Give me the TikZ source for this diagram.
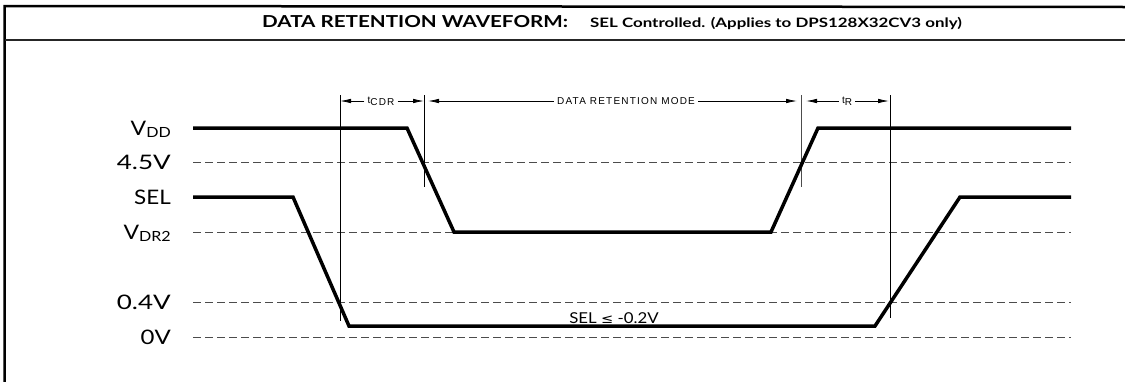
\documentclass[tikz,border=0pt]{standalone}
\usepackage{fontspec}
\setmainfont{Lato}
\newfontfamily\dimfont[LetterSpace=12]{Liberation Sans}
\newfontfamily\symfont{DejaVu Sans}
\usetikzlibrary{arrows.meta}
\newcommand{\widen}[2]{\scalebox{#1}[1]{#2}}
\begin{document}
\begin{tikzpicture}[x=1pt,y=-1pt,
  wave/.style={line width=3.5pt, line join=miter},
  reflevel/.style={line width=0.9pt, black!70, dash pattern=on 8pt off 4pt},
  guide/.style={line width=0.8pt},
  dimarrow/.style={line width=0.8pt, -{Latex[length=11pt,width=4.5pt]}},
  lvl/.style={anchor=base east, inner sep=0pt, font=\fontsize{20}{22}\selectfont},
  dimlabel/.style={inner sep=3pt, font=\dimfont\fontsize{10}{11}\selectfont},
  frame/.style={line width=2.5pt}
]
\useasboundingbox (0,0) rectangle (1125,381);
% frame
\coordinate (fbl) at (4.5,382);
\coordinate (ftl) at (4.5,6);
\coordinate (ftr) at (1126,7);
\coordinate (fml) at (4.5,40);
\coordinate (fmr) at (1126,40);
\draw[frame] (fbl) -- (ftl) -- (ftr);
\draw[line width=1.6pt, black!85] (fml) -- (fmr);
% title
\node[anchor=base west, inner sep=0pt] (title) at (262,27) {\widen{1.25}{\bfseries\fontsize{16.5}{18}\selectfont DATA RETENTION WAVEFORM:}};
\node[anchor=base west, inner sep=0pt] (subtitle) at (590,27) {\widen{1.3}{\bfseries\fontsize{13}{15}\selectfont SEL Controlled. (Applies to DPS128X32CV3 only)}};
% level labels
\node[lvl] (lvdd) at (171,135) {\widen{1.15}{V\raisebox{-2pt}{\fontsize{14}{15}\selectfont DD}}};
\node[lvl] (l45) at (171,169.5) {\widen{1.3}{4.5V}};
\node[lvl] (lsel) at (171,204.5) {\widen{1.12}{SEL}};
\node[lvl] (lvdr) at (171,239.5) {\widen{1.15}{V\raisebox{-2pt}{\fontsize{14}{15}\selectfont DR2}}};
\node[lvl] (l04) at (171,309.5) {\widen{1.3}{0.4V}};
\node[lvl] (l0) at (171,344) {\widen{1.2}{0V}};
% reference dashed levels
\foreach \n/\y in {a/162,b/232,c/302,d/337}{
  \coordinate (r\n s) at (193,\y);
  \coordinate (r\n e) at (1071,\y);
  \draw[reflevel] (r\n s) -- (r\n e);
}
% guides
\coordinate (g1t) at (340,95);  \coordinate (g1b) at (340,321);
\coordinate (g2t) at (424,95);  \coordinate (g2b) at (424,187);
\coordinate (g3t) at (801,95);  \coordinate (g3b) at (801,187);
\coordinate (g4t) at (890,95);  \coordinate (g4b) at (890,318);
\draw[guide] (g1t) -- (g1b);
\draw[guide] (g2t) -- (g2b);
\draw[guide, black!70] (g3t) -- (g3b);
\draw[guide] (g4t) -- (g4b);
% VDD waveform
\coordinate (v0) at (193,128);
\coordinate (v1) at (407,128);
\coordinate (v2) at (454,232);
\coordinate (v3) at (771,232);
\coordinate (v4) at (818,128);
\coordinate (v5) at (1071,128);
\draw[wave] (v0) -- (v1) -- (v2) -- (v3) -- (v4) -- (v5);
% SEL waveform
\coordinate (s0) at (193,197);
\coordinate (s1) at (293,197);
\coordinate (s2) at (349,326);
\coordinate (s3) at (875,326);
\coordinate (s4) at (960,197);
\coordinate (s5) at (1071,197);
\draw[wave] (s0) -- (s1) -- (s2) -- (s3) -- (s4) -- (s5);
% dimension row
\node[dimlabel] (tcdr) at (381,101) {\raisebox{2pt}{t}CDR};
\node[dimlabel] (drm) at (626,101) {DATA RETENTION MODE};
\node[dimlabel] (tr) at (847,101) {\raisebox{2pt}{t}R};
\coordinate (a1) at (340,101);
\coordinate (a2) at (424,101);
\coordinate (a3) at (428,101);
\coordinate (a4) at (797,101);
\coordinate (a5) at (806,101);
\coordinate (a6) at (889,101);
\draw[dimarrow] (tcdr.west) -- (a1);
\draw[dimarrow] (tcdr.east) -- (a2);
\draw[dimarrow] (drm.west) -- (a3);
\draw[dimarrow] (drm.east) -- (a4);
\draw[dimarrow] (tr.west) -- (a5);
\draw[dimarrow] (tr.east) -- (a6);
% SEL condition
\node[anchor=base, inner sep=0pt, font=\fontsize{15}{16}\selectfont] (cond) at (614,323) {\widen{1.12}{SEL {\symfont\fontsize{13}{14}\selectfont ≤} -0.2V}};
\end{tikzpicture}
\end{document}
